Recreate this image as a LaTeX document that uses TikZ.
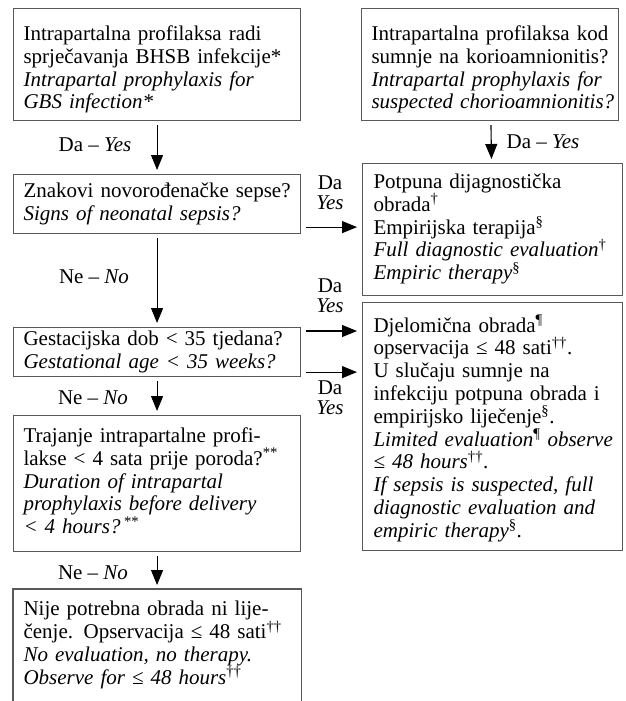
\documentclass[tikz,border=0pt]{standalone}
\usepackage{fontspec}
\setmainfont{Liberation Serif}
\usetikzlibrary{arrows.meta,calc}
\newcommand\lines[1]{\begin{tabular}{@{}l@{}}#1\end{tabular}}
\newcommand\sps[1]{\smash{\textsuperscript{#1}}}
\newcommand\tallrow{\rule{0pt}{27pt}}
\begin{document}
\begin{tikzpicture}[x=1pt,y=-1pt,
  every node/.style={font=\fontsize{21}{22.8}\selectfont},
  box/.style={draw=black!65, line width=1.1pt, anchor=north west, align=left, inner ysep=0pt},
  lbox/.style={box, inner xsep=10pt, text width=267pt, minimum width=287pt},
  rbox/.style={box, inner xsep=11pt, text width=238pt, minimum width=260pt},
  arr/.style={line width=1.1pt, -{Triangle[length=15pt,width=12pt]}, shorten <=4pt, shorten >=4pt},
  lbl/.style={inner sep=0pt, align=center},
  pair/.style={lbl, font=\fontsize{21}{20}\selectfont}]
\useasboundingbox (0,0) rectangle (625,701);
\clip (0,0) rectangle (625,701);

% left column
\node[lbox, minimum height=112pt] (b1) at (13,8)
  {\lines{\tallrow Intrapartalna profilaksa radi\\sprječavanja BHSB infekcije*\\
   \textit{Intrapartal prophylaxis for}\\\textit{GBS infection*}}};
\node[lbox, minimum height=59pt] (b2) at (13,174)
  {\lines{Znakovi novorođenačke sepse?\\\textit{Signs of neonatal sepsis?}}};
\node[lbox, minimum height=49pt] (b3) at (13,327)
  {\lines{Gestacijska dob < 35 tjedana?\\\textit{Gestational age < 35 weeks?}}};
\node[lbox, minimum height=136pt] (b4) at (13,415)
  {\lines{Trajanje intrapartalne profi-\\lakse < 4 sata prije poroda?\sps{**}\\
   \textit{Duration of intrapartal}\\\textit{prophylaxis before delivery}\\
   \textit{< 4 hours?}\,\sps{**}}};
\node[lbox, draw=none, minimum height=112pt] (b5) at (13,589)
  {\lines{Nije potrebna obrada ni lije-\\čenje. Opservacija ≤ 48 sati\sps{††}\\
   \textit{No evaluation, no therapy.}\\\textit{Observe for ≤ 48 hours}\sps{††}}};
\draw[draw=black!65, line width=1.1pt] ([yshift=-20pt]b5.south west) -- (b5.north west) -- (b5.north east) -- ([yshift=-20pt]b5.south east);

% right column
\node[box, inner xsep=10pt, text width=237pt, minimum width=257pt, minimum height=112pt] (r1) at (361,8)
  {\lines{\tallrow Intrapartalna profilaksa kod\\sumnje na korioamnionitis?\\
   \textit{Intrapartal prophylaxis for}\\\textit{suspected chorioamnionitis?}}};
\node[rbox, minimum height=132pt] (r2) at (362,163)
  {\lines{Potpuna dijagnostička\\obrada\sps{†}\\Empirijska terapija\sps{§}\\
   \textit{Full diagnostic evaluation}\sps{†}\\\textit{Empiric therapy}\sps{§}}};
\node[rbox, minimum height=248pt] (r3) at (362,302)
  {\lines{\rule{0pt}{23pt}Djelomična obrada\sps{¶}\\opservacija ≤ 48 sati\sps{††}.\\
   U slučaju sumnje na\\infekciju potpuna obrada i\\empirijsko liječenje\sps{§}.\\
   \textit{Limited evaluation}\sps{¶} \textit{observe}\\\textit{≤ 48 hours}\sps{††}.\\
   \textit{If sepsis is suspected, full}\\\textit{diagnostic evaluation and}\\
   \textit{empiric therapy}\sps{§}.}};

% vertical arrows
\draw[arr] (b1) -- (b2);
\draw[arr] (b2) -- (b3);
\draw[arr] (b3) -- (b4);
\draw[arr] (b4) -- (b5);
\draw[arr] (r1) -- (r2);

% horizontal arrows
\coordinate (h1) at ($(b2.south east)+(5,-7)$);
\coordinate (h2) at ($(b3.north east)+(5,4)$);
\coordinate (h3) at ($(b3.south east)+(5,-5)$);
\draw[arr, shorten <=0pt, shorten >=5pt] (h1) -- (h1 -| r2.west);
\draw[arr, shorten <=0pt, shorten >=5pt] (h2) -- (h2 -| r3.west);
\draw[arr, shorten <=0pt, shorten >=5pt] (h3) -- (h3 -| r3.west);

% labels
\node[lbl] (l1) at (95,145) {Da – \textit{Yes}};
\node[lbl] (l2) at (94,277) {Ne – \textit{No}};
\node[lbl] (l3) at (93,398) {Ne – \textit{No}};
\node[lbl] (l4) at (93,573) {Ne – \textit{No}};
\node[lbl] (lr) at (543,142) {Da – \textit{Yes}};
\node[pair] (s1) at (330,193) {Da\\\textit{Yes}};
\node[pair] (s2) at (330,296) {Da\\\textit{Yes}};
\node[pair] (s3) at (330,398) {Da\\\textit{Yes}};
\end{tikzpicture}
\end{document}
